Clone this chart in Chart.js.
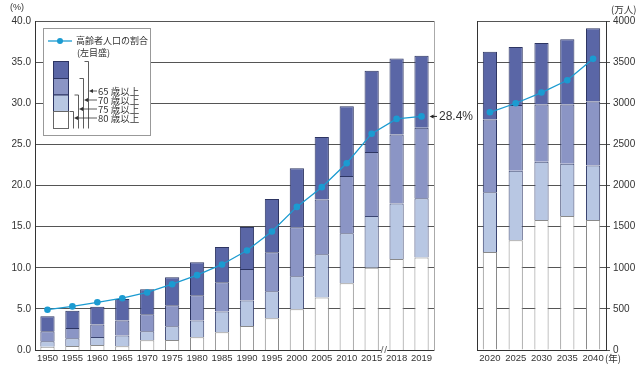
<!DOCTYPE html>
<html>
<head>
<meta charset="utf-8">
<script src="https://cdn.jsdelivr.net/npm/chart.js@4"></script>
<style>
body{margin:0;background:#fff;width:640px;height:366px;position:relative;overflow:hidden}
#left{position:absolute;left:0;top:0}
#right{position:absolute;left:470px;top:0}
</style>
</head>
<body>
<canvas id="left" width="475" height="366"></canvas>
<canvas id="right" width="170" height="366"></canvas>
<script>
// 万人, cumulative counts
const pastYears = ['1950','1955','1960','1965','1970','1975','1980','1985','1990','1995','2000','2005','2010','2015','2018','2019'];
const over65 = [411,476,525,620,740,886,1067,1252,1496,1837,2211,2589,2963,3394,3543,3579];
const over70 = [228,268,310,360,435,545,666,825,984,1187,1492,1829,2114,2406,2620,2701];
const over75 = [105,142,158,176,228,289,360,467,602,715,898,1163,1419,1630,1782,1846];
const over80 = [41,49,61,45,118,122,154,215,293,386,496,638,813,1000,1105,1126];
const ratio = [4.9,5.3,5.8,6.3,7.0,8.0,9.1,10.4,12.1,14.4,17.4,19.8,22.7,26.3,28.1,28.4];

const futureYears = ['2020','2025','2030','2035','2040'];
const over65F = [3626,3683,3732,3777,3911];
const over70F = [2801,2980,2984,2984,3020];
const over75F = [1919,2179,2289,2264,2244];
const over80F = [1191,1333,1581,1630,1581];
const ratioF = [28.9,30.0,31.3,32.8,35.4];

const pctTicks = [0,5,10,15,20,25,30,35,40];
const ageLabels = ['65 歳以上','70 歳以上','75 歳以上','80 歳以上'];

const colors = ['#5a66a6','#8b95c5','#b8c7e3','#ffffff'];
const lineColor = '#1b9bd1';
const textColor = '#333';
const sans = '"Liberation Sans", Arial, sans-serif';
const jp = '"Noto Sans CJK JP", sans-serif';

function diff(a,b){ return a.map((v,i)=>v-b[i]) }

function datasets(o65,o70,o75,o80,r,barAxis,lineAxis,pct){
    const bar = {
        yAxisID: barAxis,
        barPercentage: pct,
        categoryPercentage: 1,
        borderWidth: 1,
        borderSkipped: 'start',
        order: 1
    };
    return [
        {type:'line', data:r, yAxisID:lineAxis, borderColor:lineColor, backgroundColor:lineColor,
         borderWidth:1.3, pointRadius:3.3, pointBorderWidth:0, tension:0, order:0},
        Object.assign({data:o80, backgroundColor:colors[3], borderColor:'#8a8a8a'}, bar),
        Object.assign({data:diff(o75,o80), backgroundColor:colors[2], borderColor:'#3a4470'}, bar),
        Object.assign({data:diff(o70,o75), backgroundColor:colors[1], borderColor:'#2d3562'}, bar),
        Object.assign({data:diff(o65,o70), backgroundColor:colors[0], borderColor:'#2d3562'}, bar)
    ];
}

function arrowLeft(ctx,x1,x2,y){
    ctx.beginPath();
    ctx.moveTo(x1,y); ctx.lineTo(x2+3,y); ctx.stroke();
    ctx.beginPath();
    ctx.moveTo(x2,y); ctx.lineTo(x2+4,y-2); ctx.lineTo(x2+4,y+2); ctx.closePath(); ctx.fill();
}

const leftDecor = {
    id: 'leftDecor',
    afterDraw(chart){
        const ctx = chart.ctx;
        const x = chart.scales.x, yP = chart.scales.yP;
        ctx.save();
        ctx.fillStyle = textColor;
        ctx.font = '9px ' + sans;
        ctx.textAlign = 'center';
        ctx.textBaseline = 'middle';
        ctx.fillText('(%)', 17, 8);

        // break mark on the axis
        const bx = (x.getPixelForValue(13) + x.getPixelForValue(14)) / 2;
        ctx.fillStyle = '#fff';
        ctx.fillRect(bx-3, 346, 6, 8);
        ctx.strokeStyle = '#555';
        ctx.lineWidth = 0.8;
        ctx.beginPath();
        ctx.moveTo(bx-3, 353); ctx.lineTo(bx-1, 346);
        ctx.moveTo(bx+0.5, 353); ctx.lineTo(bx+2.5, 346);
        ctx.stroke();

        // last value callout
        const last = ratio.length - 1;
        const py = yP.getPixelForValue(ratio[last]);
        const meta = chart.getDatasetMeta(4).data[last];
        const barRight = meta.x + meta.width / 2;
        ctx.strokeStyle = '#222';
        ctx.fillStyle = '#222';
        ctx.lineWidth = 1;
        arrowLeft(ctx, 437, barRight + 1, py);
        ctx.fillStyle = textColor;
        ctx.font = '12px ' + sans;
        ctx.textAlign = 'left';
        ctx.fillText(ratio[last].toFixed(1) + '%', 439, py + 0.5);

        // legend box
        ctx.fillStyle = '#fff';
        ctx.strokeStyle = '#999';
        ctx.lineWidth = 1;
        ctx.fillRect(43.5, 28.5, 107, 107);
        ctx.strokeRect(43.5, 28.5, 107, 107);

        ctx.strokeStyle = lineColor;
        ctx.fillStyle = lineColor;
        ctx.lineWidth = 1.3;
        ctx.beginPath(); ctx.moveTo(48, 41); ctx.lineTo(72, 41); ctx.stroke();
        ctx.beginPath(); ctx.arc(60, 41, 3, 0, Math.PI*2); ctx.fill();

        ctx.fillStyle = textColor;
        ctx.font = '9px ' + jp;
        ctx.textAlign = 'left';
        ctx.fillText('高齢者人口の割合', 76, 41);
        ctx.fillText('(左目盛)', 77, 53);

        const segTop = [61, 78, 94.5, 111];
        for (let i = 0; i < 4; i++) {
            ctx.fillStyle = colors[i];
            ctx.fillRect(53.5, segTop[i] + 0.5, 15, (i < 3 ? segTop[i+1] : 128) - segTop[i]);
            ctx.strokeStyle = i < 3 ? '#2d3562' : '#666';
            ctx.lineWidth = 1;
            ctx.strokeRect(53.5, segTop[i] + 0.5, 15, (i < 3 ? segTop[i+1] : 128) - segTop[i]);
        }

        const bracketX = [88.5, 83.5, 78.5, 73.5];
        const labelY = [91, 100, 109, 118];
        ctx.strokeStyle = '#333';
        ctx.fillStyle = '#333';
        ctx.lineWidth = 0.8;
        for (let i = 0; i < 4; i++) {
            ctx.beginPath();
            ctx.moveTo(bracketX[i] - 4, segTop[i] + 0.5);
            ctx.lineTo(bracketX[i], segTop[i] + 0.5);
            ctx.lineTo(bracketX[i], 128.5);
            ctx.stroke();
            arrowLeft(ctx, 97, bracketX[i] + 0.5, labelY[i]);
        }
        ctx.fillStyle = textColor;
        ctx.font = '9.5px ' + jp;
        ageLabels.forEach((t, i) => ctx.fillText(t, 98, labelY[i]));
        ctx.restore();
    }
};

const rightDecor = {
    id: 'rightDecor',
    afterDraw(chart){
        const ctx = chart.ctx;
        const x = chart.scales.x;
        ctx.save();
        ctx.fillStyle = textColor;
        ctx.textBaseline = 'middle';
        ctx.textAlign = 'left';
        ctx.font = '9.5px ' + jp;
        ctx.fillText('(万人)', 141, 9);
        ctx.fillText('(年)', x.getPixelForValue(futureYears.length - 1) + 12, 358);
        ctx.restore();
    }
};

const leftChart = new Chart(document.getElementById('left'), {
    type: 'bar',
    data: {
        labels: pastYears,
        datasets: datasets(over65, over70, over75, over80, ratio, 'yN', 'yP', 0.57)
    },
    options: {
        responsive: false,
        animation: false,
        layout: { padding: { top: 21, right: 41 } },
        plugins: { legend: { display: false }, tooltip: { enabled: false } },
        scales: {
            x: {
                stacked: true,
                grid: { display: false, drawTicks: false },
                border: { color: '#333' },
                ticks: { autoSkip: false, maxRotation: 0, padding: 3, color: textColor, font: { family: sans, size: 9.5 } },
                afterFit(s){ s.height = 16 }
            },
            yP: {
                position: 'left',
                min: 0, max: 40,
                afterBuildTicks(s){ s.ticks = pctTicks.map(v => ({ value: v })) },
                ticks: { padding: 4, color: textColor, font: { family: sans, size: 10 }, callback: v => v.toFixed(1) },
                grid: { color: '#555', drawTicks: false },
                border: { color: '#333' },
                afterFit(s){ s.width = 35 }
            },
            yN: {
                position: 'right',
                stacked: true,
                min: 0, max: 4000,
                ticks: { display: false },
                grid: { display: false, drawTicks: false },
                border: { color: '#aaa' },
                afterFit(s){ s.width = 0 }
            }
        }
    },
    plugins: [leftDecor]
});

const rightChart = new Chart(document.getElementById('right'), {
    type: 'bar',
    data: {
        labels: futureYears,
        datasets: datasets(over65F, over70F, over75F, over80F, ratioF, 'yR', 'yL', 0.55)
    },
    options: {
        responsive: false,
        animation: false,
        layout: { padding: { top: 21, left: 7 } },
        plugins: { legend: { display: false }, tooltip: { enabled: false } },
        scales: {
            x: {
                stacked: true,
                grid: { display: false, drawTicks: false },
                border: { color: '#333' },
                ticks: { autoSkip: false, maxRotation: 0, padding: 3, color: textColor, font: { family: sans, size: 9.5 } },
                afterFit(s){ s.height = 16 }
            },
            yR: {
                position: 'right',
                stacked: true,
                min: 0, max: 4000,
                ticks: { stepSize: 500, padding: 3, color: textColor, font: { family: sans, size: 10 }, callback: v => String(v) },
                grid: { color: '#555', tickLength: 4 },
                border: { color: '#333' },
                afterFit(s){ s.width = 34 }
            },
            yL: {
                position: 'left',
                min: 0, max: 40,
                ticks: { display: false },
                grid: { display: false, drawTicks: false },
                border: { color: '#333' },
                afterFit(s){ s.width = 0 }
            }
        }
    },
    plugins: [rightDecor]
});
</script>
</body>
</html>
